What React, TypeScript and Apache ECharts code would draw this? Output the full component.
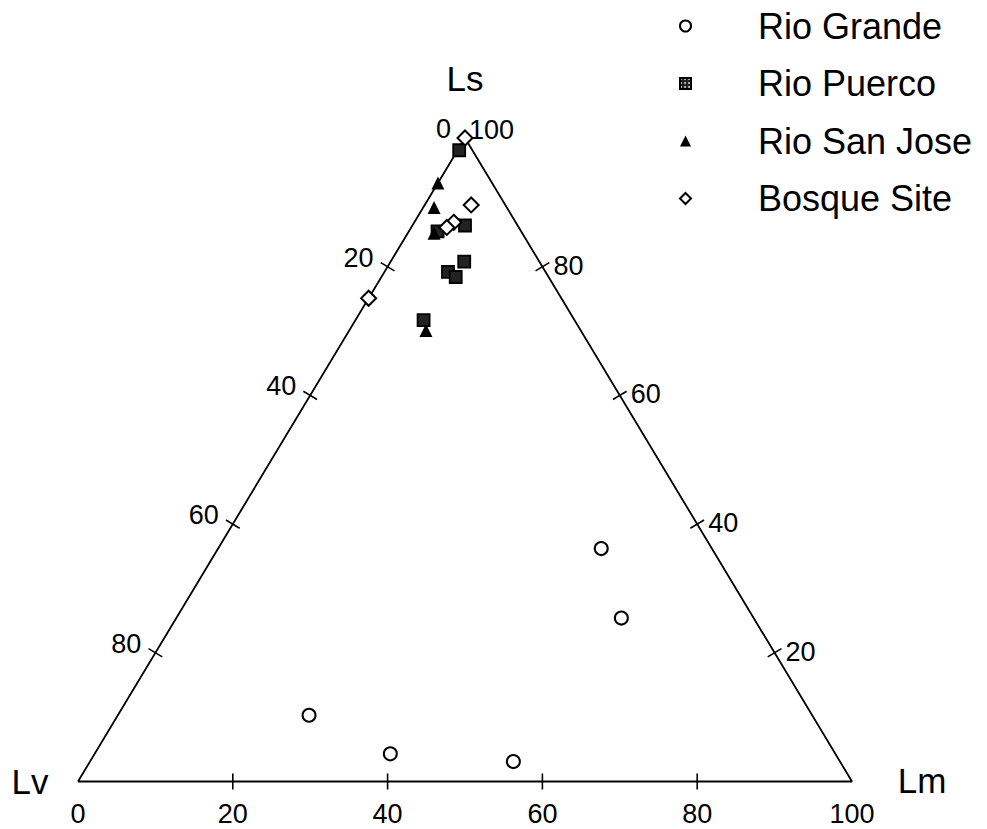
import React, { useEffect, useRef } from "react";
import * as echarts from "echarts";

// Each sample: [Ls, Lv, Lm] in percent
const rioGrande = [
  [36.2, 14.3, 49.5],
  [25.4, 17.1, 57.5],
  [10.3, 65.0, 24.7],
  [4.3, 57.5, 38.2],
  [3.1, 42.2, 54.7],
];
const rioPuerco = [
  [98.1, 1.7, 0.2],
  [86.4, 6.8, 6.8],
  [85.5, 10.8, 3.7],
  [80.8, 9.7, 9.5],
  [79.2, 12.6, 8.2],
  [78.4, 12.0, 9.6],
  [71.7, 19.5, 8.8],
];
const rioSanJose = [
  [93.0, 7.0, 0.0],
  [89.2, 9.4, 1.4],
  [85.2, 11.4, 3.4],
  [70.1, 20.0, 9.9],
];
const bosqueSite = [
  [100, 0, 0],
  [89.6, 4.4, 6.0],
  [86.9, 8.0, 5.1],
  [86.1, 9.3, 4.6],
  [75.1, 24.9, 0.0],
];

const bottomTickLabels = [0, 20, 40, 60, 80, 100]; // Lm
const leftTickLabels = [0, 20, 40, 60, 80]; // Lv
const rightTickLabels = [100, 80, 60, 40, 20]; // Ls
const tickMarks = [20, 40, 60, 80];
const vertexNames = ["Lv", "Lm", "Ls"];
const seriesNames = ["Rio Grande", "Rio Puerco", "Rio San Jose", "Bosque Site"];

const FONT = "'Liberation Sans', Arial, Helvetica, sans-serif";

function toXY(s: number[]): number[] {
  const [ls, lv, lm] = s;
  const t = ls + lv + lm;
  const a = (ls / t) * 100;
  const m = (lm / t) * 100;
  return [m + a / 2, a];
}

// triangle corners in data space: Lv (0,0), Lm (100,0), Ls (50,100)
const corners = [
  [0, 0],
  [100, 0],
  [50, 100],
];

function edgePoint(edge: number, v: number): number[] {
  if (edge === 0) return [v, 0]; // bottom: Lm
  if (edge === 1) return [(100 - v) / 2, 100 - v]; // left: Lv
  return [100 - v / 2, v]; // right: Ls
}
const edgeEnds = [
  [corners[0], corners[1]],
  [corners[2], corners[0]],
  [corners[2], corners[1]],
];

export default function App() {
  const ref = useRef<HTMLDivElement>(null);
  useEffect(() => {
    if (!ref.current) return;
    const chart = echarts.init(ref.current, null, { renderer: "svg" });

    const tickData: number[][] = [];
    bottomTickLabels.forEach((v) => tickData.push([0, v, tickMarks.includes(v) ? 1 : 0]));
    leftTickLabels.forEach((v) => tickData.push([1, v, tickMarks.includes(v) ? 1 : 0]));
    rightTickLabels.forEach((v) => tickData.push([2, v, tickMarks.includes(v) ? 1 : 0]));

    const T = 8;
    const option: any = {
      animation: false,
      backgroundColor: "#fff",
      grid: { left: 78, right: 135, top: 138, bottom: 47.5, containLabel: false },
      xAxis: { type: "value", min: 0, max: 100, show: false },
      yAxis: { type: "value", min: 0, max: 100, show: false },
      legend: {
        orient: "vertical",
        left: 679,
        top: 6,
        padding: 0,
        itemWidth: 11,
        itemHeight: 11,
        itemGap: 17.5,
        data: [
          { name: seriesNames[0], icon: "circle" },
          { name: seriesNames[1], icon: "rect" },
          { name: seriesNames[2], icon: "triangle" },
          { name: seriesNames[3], icon: "diamond" },
        ],
        textStyle: {
          fontSize: 36,
          lineHeight: 40,
          fontFamily: FONT,
          color: "#000",
          padding: [0, 0, 0, 62],
        },
        selectedMode: false,
      },
      graphic: [
        {
          type: "text",
          x: 30,
          y: 781,
          style: { text: vertexNames[0], fontSize: 35, fontFamily: FONT, fill: "#000", align: "center", verticalAlign: "middle" },
        },
        {
          type: "text",
          x: 922,
          y: 780,
          style: { text: vertexNames[1], fontSize: 35, fontFamily: FONT, fill: "#000", align: "center", verticalAlign: "middle" },
        },
        {
          type: "text",
          x: 465,
          y: 78,
          style: { text: vertexNames[2], fontSize: 35, fontFamily: FONT, fill: "#000", align: "center", verticalAlign: "middle" },
        },
      ],
      series: [
        {
          type: "line",
          name: "frame",
          data: [corners[0], corners[1], corners[2], corners[0]],
          symbol: "none",
          lineStyle: { color: "#000", width: 1.8 },
          silent: true,
          clip: false,
          z: 1,
        },
        {
          type: "custom",
          name: "ticks",
          data: tickData,
          clip: false,
          silent: true,
          z: 1,
          renderItem: (params: any, api: any) => {
            const edge = api.value(0);
            const v = api.value(1);
            const tick = api.value(2);
            const p = api.coord(edgePoint(edge, v));
            const [a, b] = edgeEnds[edge];
            const pa = api.coord(a);
            const pb = api.coord(b);
            const dx = pb[0] - pa[0];
            const dy = pb[1] - pa[1];
            const len = Math.hypot(dx, dy);
            const nx = -dy / len;
            const ny = dx / len;
            const children: any[] = [];
            if (tick) {
              children.push({
                type: "line",
                shape: { x1: p[0] - nx * T, y1: p[1] - ny * T, x2: p[0] + nx * T, y2: p[1] + ny * T },
                style: { stroke: "#000", lineWidth: 1.6 },
              });
            }
            let tx = p[0];
            let ty = p[1];
            let align = "center";
            if (edge === 0) {
              ty = p[1] + 32;
            } else if (edge === 1) {
              tx = p[0] - 14;
              ty = p[1] - 9;
              align = "right";
            } else if (v === 100) {
              tx = p[0] + 4;
              ty = p[1] - 8;
              align = "left";
            } else {
              tx = p[0] + 11;
              ty = p[1] - 1;
              align = "left";
            }
            children.push({
              type: "text",
              x: tx,
              y: ty,
              style: {
                text: String(v),
                fontSize: 27,
                fontFamily: FONT,
                fill: "#000",
                align,
                verticalAlign: "middle",
              },
            });
            return { type: "group", children };
          },
        },
        {
          type: "scatter",
          name: seriesNames[0],
          data: rioGrande.map(toXY),
          symbol: "circle",
          symbolSize: 13,
          clip: false,
          itemStyle: { color: "#fff", borderColor: "#000", borderWidth: 2, opacity: 1 },
          z: 3,
        },
        {
          type: "scatter",
          name: seriesNames[1],
          data: rioPuerco.map(toXY),
          symbol: "rect",
          symbolSize: 12,
          clip: false,
          itemStyle: {
            color: "#222",
            borderColor: "#000",
            borderWidth: 1.8,
            opacity: 1,
            decal: {
              symbol: "circle",
              symbolSize: 0.9,
              color: "#ddd",
              backgroundColor: "#222",
              dashArrayX: [2, 2],
              dashArrayY: [2, 2],
              rotation: 0,
            },
          },
          z: 3,
        },
        {
          type: "scatter",
          name: seriesNames[2],
          data: rioSanJose.map(toXY),
          symbol: "triangle",
          symbolSize: 13,
          clip: false,
          itemStyle: { color: "#000", opacity: 1 },
          z: 3,
        },
        {
          type: "scatter",
          name: seriesNames[3],
          data: bosqueSite.map(toXY),
          symbol: "diamond",
          symbolSize: 15,
          clip: false,
          itemStyle: { color: "#fff", borderColor: "#000", borderWidth: 2, opacity: 1 },
          z: 3,
        },
      ],
    };
    chart.setOption(option);
    return () => chart.dispose();
  }, []);

  return (
    <div
      ref={ref}
      style={{ position: "fixed", left: 0, top: 0, width: 987, height: 829, background: "#fff" }}
    />
  );
}
